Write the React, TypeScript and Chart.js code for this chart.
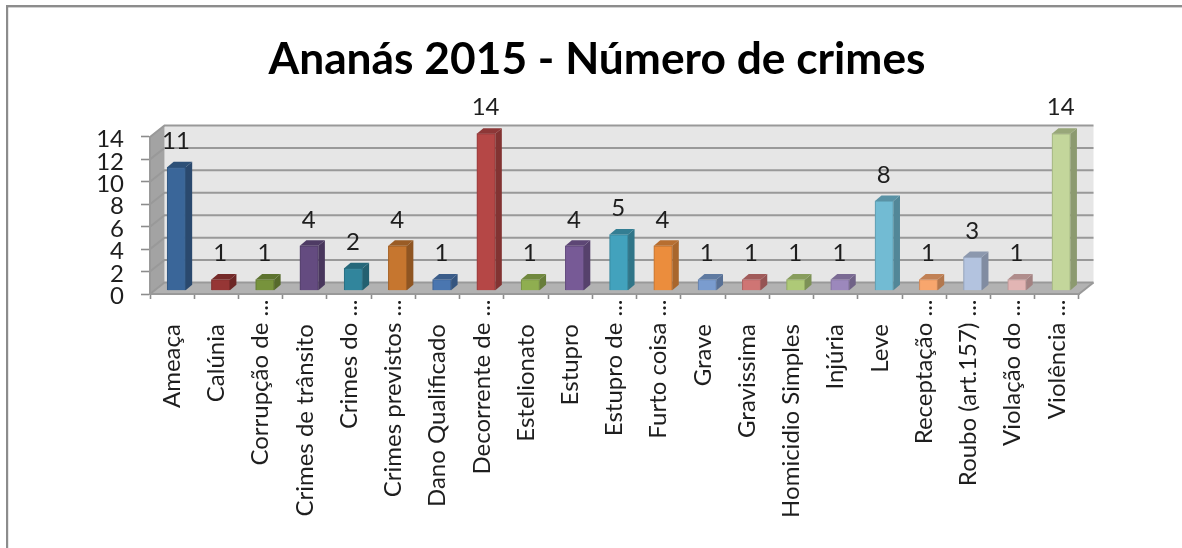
import React, { useEffect, useRef } from "react";
import { Chart, registerables } from "chart.js";

Chart.register(...registerables);

const titleText = "Ananás 2015 - Número de crimes";
const categories = [
  "Ameaça", "Calúnia", "Corrupção de ...", "Crimes de trânsito", "Crimes do ...",
  "Crimes previstos ...", "Dano Qualificado", "Decorrente de ...", "Estelionato", "Estupro",
  "Estupro de ...", "Furto coisa ...", "Grave", "Gravissima", "Homicidio Simples",
  "Injúria", "Leve", "Receptação ...", "Roubo (art.157) ...", "Violação do ...", "Violência ...",
];
const crimeCounts = [11, 1, 1, 4, 2, 4, 1, 14, 1, 4, 5, 4, 1, 1, 1, 1, 8, 1, 3, 1, 14];
const barColors = [
  "#3A6699", "#963635", "#77933C", "#644B80", "#31859C", "#C6762F", "#4A76B0",
  "#B54746", "#8FAE50", "#775A96", "#42A2BD", "#EB8D3D", "#7A9CCF", "#CF7574",
  "#AEC977", "#9C88BC", "#72BBD3", "#F8A66D", "#B3C3DF", "#E2B5B4", "#C3D69B",
];

const FONT = "Lato, Carlito, sans-serif";
const LABEL_SIZE = 24;
const WALL_DX = 14.5;
const WALL_DY = 11.5;
const BAR_PLANE_DX = 4.3;
const BAR_PLANE_DY = 3.3;
const BAR_DX = 6.5;
const BAR_DY = 5.5;
const GRID = "#999999";

function shade(hex: string, f: number) {
  const n = parseInt(hex.slice(1), 16);
  const c = [(n >> 16) & 255, (n >> 8) & 255, n & 255].map((v) => Math.round(v * f));
  return `rgb(${c[0]},${c[1]},${c[2]})`;
}

const poly = (ctx: CanvasRenderingContext2D, pts: number[][], fill: string) => {
  ctx.beginPath();
  pts.forEach((p, i) => (i ? ctx.lineTo(p[0], p[1]) : ctx.moveTo(p[0], p[1])));
  ctx.closePath();
  ctx.fillStyle = fill;
  ctx.fill();
};

const scene3d = {
  id: "scene3d",
  afterLayout(chart: any) {
    // the reference title is centred a little right of the canvas centre
    chart.titleBlock.left = 115;
  },
  beforeDraw(chart: any) {
    const { ctx, chartArea: a, scales } = chart;
    const y = scales.y;
    ctx.save();
    // outer frame
    ctx.fillStyle = "#8C8C8C";
    ctx.fillRect(6, 5, chart.width - 6, 2.4);
    ctx.fillRect(6, 5, 2.2, chart.height - 5);

    const bL = a.left + WALL_DX, bR = a.right + WALL_DX;
    const bT = a.top - WALL_DY, bB = a.bottom - WALL_DY;
    poly(ctx, [[bL, bT], [bR, bT], [bR, bB], [bL, bB]], "#E6E6E6");
    poly(ctx, [[a.left, a.top], [bL, bT], [bL, bB], [a.left, a.bottom]], "#A3A3A3");
    poly(ctx, [[a.left, a.bottom], [bL, bB], [bR, bB], [a.right, a.bottom]], "#B2B2B2");

    ctx.lineWidth = 2;
    ctx.strokeStyle = GRID;
    y.ticks.forEach((t: any) => {
      const py = y.getPixelForValue(t.value);
      ctx.beginPath();
      ctx.moveTo(a.left, py);
      ctx.lineTo(bL, py - WALL_DY);
      ctx.lineTo(bR, py - WALL_DY);
      ctx.stroke();
    });
    ctx.beginPath();
    ctx.moveTo(a.right, a.bottom);
    ctx.lineTo(bR, bB);
    ctx.stroke();
    ctx.restore();
  },
  beforeDatasetsDraw(chart: any) {
    chart.ctx.save();
    chart.ctx.translate(BAR_PLANE_DX, -BAR_PLANE_DY);
  },
  afterDatasetsDraw(chart: any) {
    const { ctx } = chart;
    const meta = chart.getDatasetMeta(0);
    meta.data.forEach((bar: any, i: number) => {
      const w = bar.width;
      const l = bar.x - w / 2, r = bar.x + w / 2;
      const c = barColors[i];
      poly(ctx, [[r, bar.y], [r + BAR_DX, bar.y - BAR_DY], [r + BAR_DX, bar.base - BAR_DY], [r, bar.base]], shade(c, 0.72));
      poly(ctx, [[l, bar.y], [l + BAR_DX, bar.y - BAR_DY], [r + BAR_DX, bar.y - BAR_DY], [r, bar.y]], shade(c, 0.78));
      ctx.fillStyle = "#1E1E1E";
      ctx.font = `${LABEL_SIZE}px ${FONT}`;
      ctx.textAlign = "center";
      ctx.textBaseline = "middle";
      ctx.fillText(String(crimeCounts[i]), bar.x - 0.5, bar.y - 26);
    });
    ctx.restore();
  },
};

export default function App() {
  const ref = useRef<HTMLCanvasElement>(null);
  useEffect(() => {
    document.body.style.margin = "0";
    const chart = new Chart(ref.current!, {
      type: "bar",
      data: {
        labels: categories,
        datasets: [
          {
            data: crimeCounts,
            backgroundColor: barColors,
            borderColor: barColors.map((c) => shade(c, 0.85)),
            borderWidth: 1.2,
            barThickness: 18.5,
            clip: false as any,
          },
        ],
      },
      options: {
        responsive: false,
        animation: false,
        layout: { padding: { left: 0, right: 103, top: 0, bottom: 0 } },
        plugins: {
          legend: { display: false },
          tooltip: { enabled: false },
          title: {
            display: true,
            text: titleText,
            color: "#000",
            font: { family: FONT, size: 44.3, weight: "bold", lineHeight: 1.2 },
            padding: { top: 33.5, bottom: 50.3 },
          },
        },
        scales: {
          x: {
            afterFit: (s: any) => { s.height = 254; },
            grid: { drawOnChartArea: false, drawTicks: true, tickLength: 5, tickColor: "#8C8C8C", tickWidth: 1.6, offset: true },
            border: { color: "#999999", width: 2 },
            ticks: {
              autoSkip: false,
              minRotation: 90,
              maxRotation: 90,
              padding: 0.5,
              color: "#1E1E1E",
              font: { family: FONT, size: LABEL_SIZE },
              callback(this: any, v: any) {
                const l = this.getLabelForValue(v);
                return l.endsWith("...") ? l : l + "    ";
              },
            },
          },
          y: {
            min: 0,
            max: 14,
            afterFit: (s: any) => { s.width = 150; },
            grid: { drawOnChartArea: false, drawTicks: true, tickLength: 9, tickColor: "#8C8C8C", tickWidth: 1.6 },
            border: { color: "#999999", width: 2 },
            ticks: {
              autoSkip: false,
              stepSize: 2,
              padding: 17,
              labelOffset: 2.5,
              color: "#1E1E1E",
              font: { family: FONT, size: LABEL_SIZE },
            },
          },
        },
      },
      plugins: [scene3d],
    } as any);
    return () => chart.destroy();
  }, []);
  return <canvas ref={ref} width={1182} height={548} style={{ display: "block", filter: "blur(0.5px)" }} />;
}
